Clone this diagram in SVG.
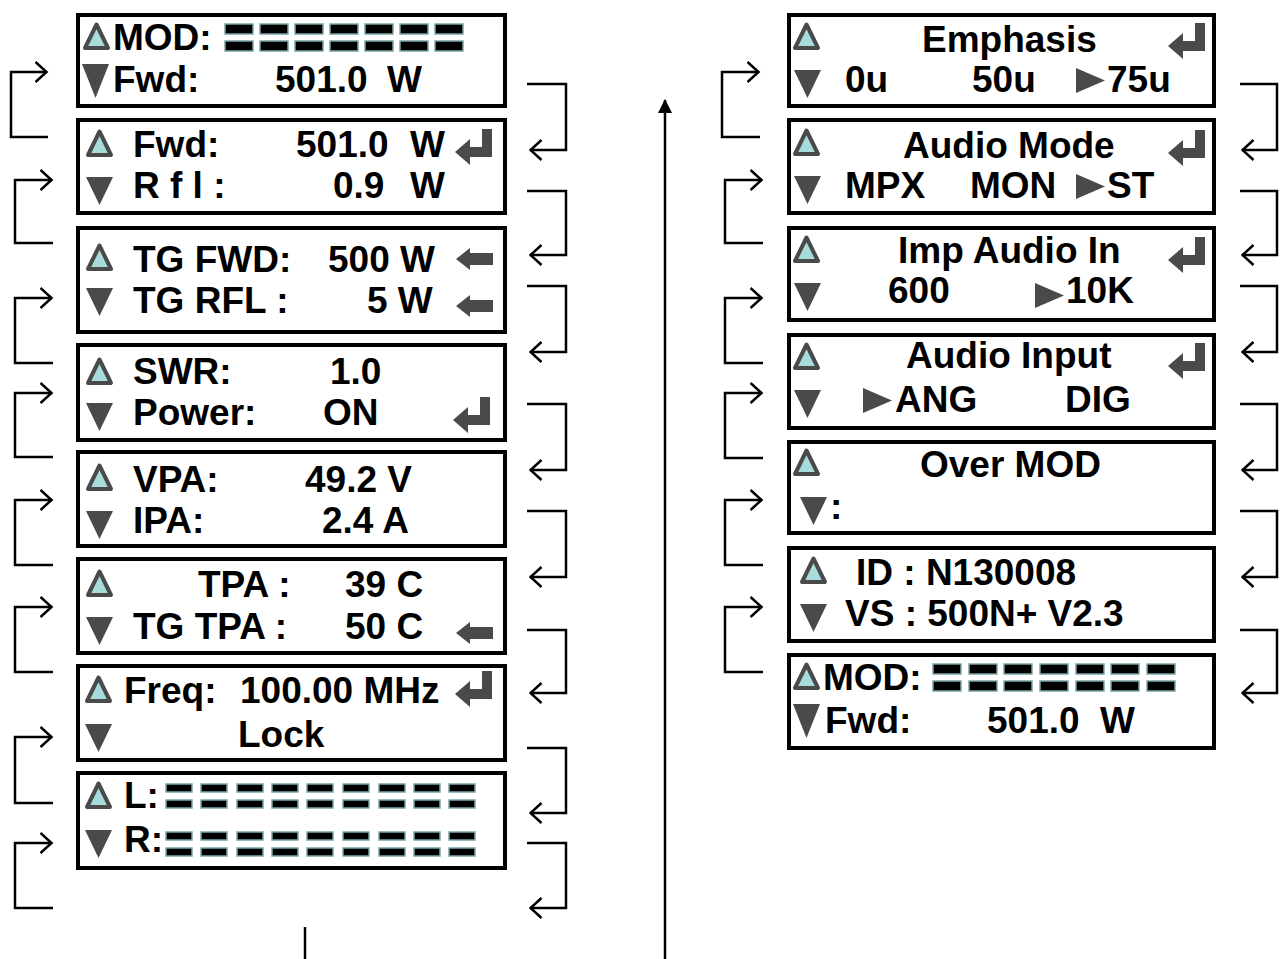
<svg xmlns="http://www.w3.org/2000/svg" xmlns:xlink="http://www.w3.org/1999/xlink" width="1287" height="959" viewBox="0 0 1287 959">
<style>
.box{fill:#fff;stroke:#000;stroke-width:4}
.t{font-family:"Liberation Sans",Arial,sans-serif;font-weight:bold;font-size:37px;fill:#000}
.c{fill:none;stroke:#000;stroke-width:2.5}
.ic{fill:#4a4a4a}
.up{fill:#a8dcdc;stroke:#4a4a4a;stroke-width:4;stroke-linejoin:round}
.sg{fill:#000;stroke:#7aa6a6;stroke-width:1.5}
</style>
<defs>
<marker id="arr" viewBox="0 0 14 22" refX="12.5" refY="11" markerWidth="14" markerHeight="22" orient="auto" markerUnits="userSpaceOnUse">
<path d="M1,1 L12,11 L1,21" fill="none" stroke="#000" stroke-width="2.5"/>
</marker>
<marker id="fa" viewBox="0 0 14 14" refX="13" refY="7" markerWidth="14" markerHeight="14" orient="auto" markerUnits="userSpaceOnUse">
<path d="M0,0 L14,7 L0,14 Z" fill="#000"/>
</marker>
<g id="tu"><polygon class="up" points="13.5,2.5 25,26 2,26"/></g>
<g id="td"><polygon class="ic" points="0,0 27,0 13.5,28"/></g>
<g id="tdb"><polygon class="ic" points="0,0 27,0 13.5,34"/></g>
<g id="tr"><polygon class="ic" points="0,0 29,12.5 0,25"/></g>
<g id="ent"><path class="ic" d="M27,0 H37 V28 H15 V36 L0,23 L15,10 V18 H27 Z"/></g>
<g id="la"><path class="ic" d="M0,11 L14,0 V5 H37 V17 H14 V22 Z"/></g>
<g id="s1"><rect class="sg" x="0" y="0" width="28" height="10"/><rect class="sg" x="0" y="17" width="28" height="10"/></g>
<g id="s2"><rect class="sg" x="0" y="0" width="26" height="8"/><rect class="sg" x="0" y="16" width="26" height="8"/></g>
</defs>

<g id="connectors">
<path class="c" d="M48,137 H11 V72 H47" marker-end="url(#arr)"/>
<path class="c" d="M53,243 H15 V180 H52" marker-end="url(#arr)"/>
<path class="c" d="M53,363 H15 V298 H52" marker-end="url(#arr)"/>
<path class="c" d="M53,457 H15 V393 H52" marker-end="url(#arr)"/>
<path class="c" d="M53,565 H15 V500 H52" marker-end="url(#arr)"/>
<path class="c" d="M53,672 H15 V607 H52" marker-end="url(#arr)"/>
<path class="c" d="M53,803 H15 V737 H52" marker-end="url(#arr)"/>
<path class="c" d="M53,908 H15 V843 H52" marker-end="url(#arr)"/>

<path class="c" d="M527,84 H566 V150 H530" marker-end="url(#arr)"/>
<path class="c" d="M527,191 H566 V255 H530" marker-end="url(#arr)"/>
<path class="c" d="M527,286 H566 V352 H530" marker-end="url(#arr)"/>
<path class="c" d="M527,404 H566 V470 H530" marker-end="url(#arr)"/>
<path class="c" d="M527,511 H566 V577 H530" marker-end="url(#arr)"/>
<path class="c" d="M527,630 H566 V693 H530" marker-end="url(#arr)"/>
<path class="c" d="M527,748 H566 V813 H530" marker-end="url(#arr)"/>
<path class="c" d="M527,843 H566 V908 H530" marker-end="url(#arr)"/>

<path class="c" d="M760,137 H722 V72 H759" marker-end="url(#arr)"/>
<path class="c" d="M763,243 H725 V180 H762" marker-end="url(#arr)"/>
<path class="c" d="M763,363 H725 V298 H762" marker-end="url(#arr)"/>
<path class="c" d="M763,458 H725 V393 H762" marker-end="url(#arr)"/>
<path class="c" d="M763,565 H725 V500 H762" marker-end="url(#arr)"/>
<path class="c" d="M763,672 H725 V607 H762" marker-end="url(#arr)"/>

<path class="c" d="M1240,84 H1277 V150 H1242" marker-end="url(#arr)"/>
<path class="c" d="M1240,191 H1277 V255 H1242" marker-end="url(#arr)"/>
<path class="c" d="M1240,286 H1277 V352 H1242" marker-end="url(#arr)"/>
<path class="c" d="M1240,404 H1277 V470 H1242" marker-end="url(#arr)"/>
<path class="c" d="M1240,511 H1277 V577 H1242" marker-end="url(#arr)"/>
<path class="c" d="M1240,630 H1277 V693 H1242" marker-end="url(#arr)"/>

<path class="c" d="M305,927 V959"/>
<path class="c" d="M665,959 V100" marker-end="url(#fa)"/>
</g>

<g id="n1">
<rect class="box" x="78" y="15" width="427" height="91"/>
<use href="#tu" x="83" y="22"/>
<use href="#tdb" x="82" y="64"/>
<text class="t" x="113" y="50">MOD:</text>
<use href="#s1" x="225" y="24"/><use href="#s1" x="260" y="24"/><use href="#s1" x="295" y="24"/><use href="#s1" x="330" y="24"/><use href="#s1" x="365" y="24"/><use href="#s1" x="400" y="24"/><use href="#s1" x="435" y="24"/>
<text class="t" x="113" y="92">Fwd:</text>
<text class="t" x="275" y="92">501.0</text>
<text class="t" x="387" y="92">W</text>
</g>

<g id="n2">
<rect class="box" x="78" y="120" width="427" height="93"/>
<use href="#tu" x="86" y="129"/>
<use href="#td" x="86" y="177"/>
<text class="t" x="133" y="157">Fwd:</text>
<text class="t" x="296" y="157">501.0</text>
<text class="t" x="410" y="157">W</text>
<use href="#ent" x="455" y="129"/>
<text class="t" x="133" y="198">R f l :</text>
<text class="t" x="333" y="198">0.9</text>
<text class="t" x="410" y="198">W</text>
</g>

<g id="n3">
<rect class="box" x="78" y="228" width="427" height="104"/>
<use href="#tu" x="86" y="243"/>
<use href="#td" x="86" y="288"/>
<text class="t" x="133" y="272">TG FWD:</text>
<text class="t" x="328" y="272">500 W</text>
<use href="#la" x="456" y="248"/>
<text class="t" x="133" y="313">TG RFL :</text>
<text class="t" x="367" y="313">5 W</text>
<use href="#la" x="456" y="295"/>
</g>

<g id="n4">
<rect class="box" x="78" y="345" width="427" height="95"/>
<use href="#tu" x="86" y="357"/>
<use href="#td" x="86" y="403"/>
<text class="t" x="133" y="384">SWR:</text>
<text class="t" x="330" y="384">1.0</text>
<text class="t" x="133" y="425">Power:</text>
<text class="t" x="323" y="425">ON</text>
<use href="#ent" x="453" y="397"/>
</g>

<g id="n5">
<rect class="box" x="78" y="452" width="427" height="94"/>
<use href="#tu" x="86" y="463"/>
<use href="#td" x="86" y="511"/>
<text class="t" x="133" y="492">VPA:</text>
<text class="t" x="305" y="492">49.2 V</text>
<text class="t" x="133" y="533">IPA:</text>
<text class="t" x="322" y="533">2.4 A</text>
</g>

<g id="n6">
<rect class="box" x="78" y="559" width="427" height="94"/>
<use href="#tu" x="86" y="569"/>
<use href="#td" x="86" y="617"/>
<text class="t" x="198" y="597">TPA :</text>
<text class="t" x="345" y="597">39 C</text>
<text class="t" x="133" y="639">TG TPA :</text>
<text class="t" x="345" y="639">50 C</text>
<use href="#la" x="456" y="622"/>
</g>

<g id="n7">
<rect class="box" x="78" y="666" width="427" height="94"/>
<use href="#tu" x="85" y="675"/>
<use href="#td" x="85" y="724"/>
<text class="t" x="124" y="703">Freq:</text>
<text class="t" x="240" y="703">100.00 MHz</text>
<use href="#ent" x="455" y="671"/>
<text class="t" x="238" y="747">Lock</text>
</g>

<g id="n8">
<rect class="box" x="78" y="773" width="427" height="95"/>
<use href="#tu" x="85" y="781"/>
<use href="#td" x="85" y="830"/>
<text class="t" x="124" y="808">L:</text>
<use href="#s2" x="166" y="784"/><use href="#s2" x="201" y="784"/><use href="#s2" x="237" y="784"/><use href="#s2" x="272" y="784"/><use href="#s2" x="307" y="784"/><use href="#s2" x="343" y="784"/><use href="#s2" x="379" y="784"/><use href="#s2" x="414" y="784"/><use href="#s2" x="449" y="784"/>
<text class="t" x="124" y="852">R:</text>
<use href="#s2" x="166" y="832"/><use href="#s2" x="201" y="832"/><use href="#s2" x="237" y="832"/><use href="#s2" x="272" y="832"/><use href="#s2" x="307" y="832"/><use href="#s2" x="343" y="832"/><use href="#s2" x="379" y="832"/><use href="#s2" x="414" y="832"/><use href="#s2" x="449" y="832"/>
</g>

<g id="r1">
<rect class="box" x="789" y="15" width="425" height="91"/>
<use href="#tu" x="793" y="22"/>
<use href="#td" x="794" y="70"/>
<text class="t" x="922" y="52">Emphasis</text>
<use href="#ent" x="1168" y="23"/>
<text class="t" x="845" y="92">0u</text>
<text class="t" x="972" y="92">50u</text>
<use href="#tr" x="1076" y="68"/>
<text class="t" x="1107" y="92">75u</text>
</g>

<g id="r2">
<rect class="box" x="789" y="120" width="425" height="93"/>
<use href="#tu" x="793" y="128"/>
<use href="#td" x="794" y="176"/>
<text class="t" x="903" y="158">Audio Mode</text>
<use href="#ent" x="1168" y="130"/>
<text class="t" x="845" y="198">MPX</text>
<text class="t" x="970" y="198">MON</text>
<use href="#tr" x="1076" y="174"/>
<text class="t" x="1107" y="198">ST</text>
</g>

<g id="r3">
<rect class="box" x="789" y="228" width="425" height="92"/>
<use href="#tu" x="793" y="235"/>
<use href="#td" x="794" y="283"/>
<text class="t" x="898" y="263">Imp Audio In</text>
<use href="#ent" x="1168" y="237"/>
<text class="t" x="888" y="303">600</text>
<use href="#tr" x="1035" y="283"/>
<text class="t" x="1066" y="303">10K</text>
</g>

<g id="r4">
<rect class="box" x="789" y="335" width="425" height="93"/>
<use href="#tu" x="793" y="342"/>
<use href="#td" x="794" y="390"/>
<text class="t" x="906" y="368">Audio Input</text>
<use href="#ent" x="1168" y="343"/>
<use href="#tr" x="863" y="388"/>
<text class="t" x="895" y="412">ANG</text>
<text class="t" x="1065" y="412">DIG</text>
</g>

<g id="r5">
<rect class="box" x="789" y="442" width="425" height="91"/>
<use href="#tu" x="793" y="448"/>
<use href="#td" x="800" y="497"/>
<text class="t" x="920" y="477">Over MOD</text>
<text class="t" x="830" y="519">:</text>
</g>

<g id="r6">
<rect class="box" x="789" y="548" width="425" height="93"/>
<use href="#tu" x="800" y="556"/>
<use href="#td" x="800" y="604"/>
<text class="t" x="856" y="585">ID : N130008</text>
<text class="t" x="845" y="626">VS : 500N+ V2.3</text>
</g>

<g id="r7">
<rect class="box" x="789" y="655" width="425" height="93"/>
<use href="#tu" x="793" y="662"/>
<use href="#tdb" x="793" y="704"/>
<text class="t" x="823" y="690">MOD:</text>
<use href="#s1" x="933" y="664"/><use href="#s1" x="969" y="664"/><use href="#s1" x="1004" y="664"/><use href="#s1" x="1040" y="664"/><use href="#s1" x="1076" y="664"/><use href="#s1" x="1111" y="664"/><use href="#s1" x="1147" y="664"/>
<text class="t" x="825" y="733">Fwd:</text>
<text class="t" x="987" y="733">501.0</text>
<text class="t" x="1100" y="733">W</text>
</g>
</svg>
